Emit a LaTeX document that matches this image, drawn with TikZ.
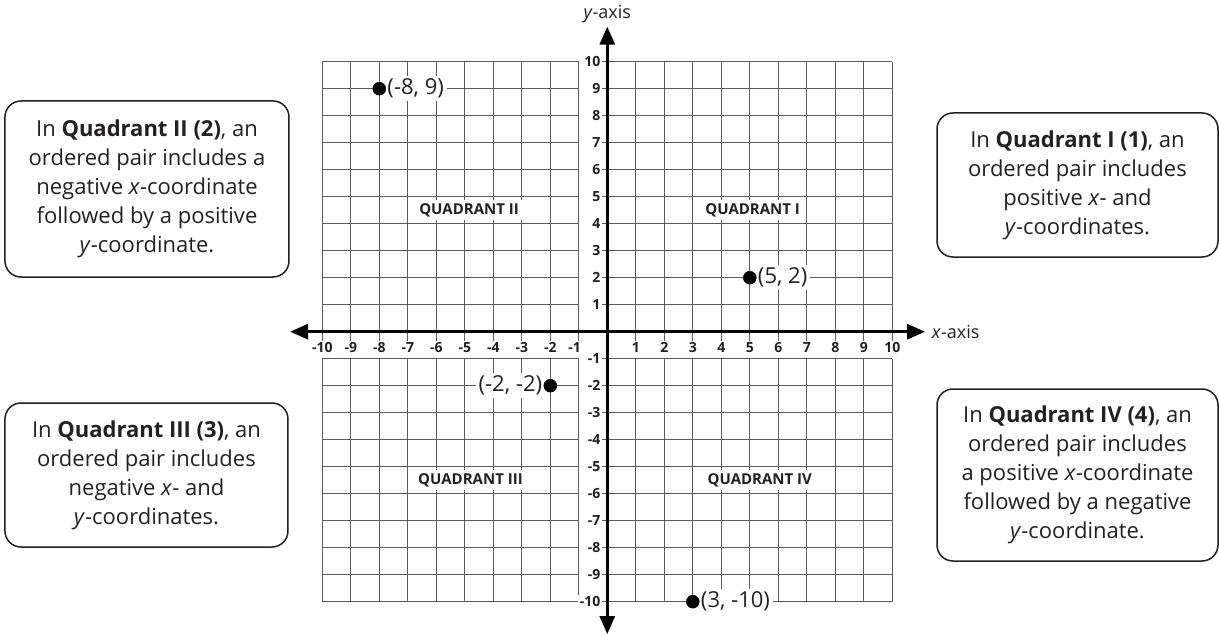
\documentclass[tikz,border=0pt]{standalone}
\usepackage{fontspec}
\setmainfont{Open Sans}
\usepackage{tkz-euclide}
\usetikzlibrary{arrows.meta}
\definecolor{GridClr}{rgb}{0.36,0.36,0.37}
\definecolor{TextClr}{rgb}{0.14,0.12,0.13}

\begin{document}
\begin{tikzpicture}[x=28.5pt,y=27pt,
  gridline/.style={line width=1.3pt,color=GridClr},
  axisline/.style={line width=3pt,color=black,{Triangle[length=18pt,width=15pt]}-{Triangle[length=18pt,width=15pt]}},
  numlbl/.style={fill=white,inner sep=1.5pt,text=TextClr,font=\fontsize{14}{14}\selectfont\bfseries},
  quadlbl/.style={fill=white,inner sep=3pt,text=TextClr,font=\fontsize{15}{15}\selectfont\bfseries},
  axlbl/.style={inner sep=1pt,text=TextClr,font=\fontsize{18}{18}\selectfont},
  ptlbl/.style={fill=white,inner sep=3pt,text=TextClr,font=\fontsize{22}{22}\selectfont},
  infobox/.style={draw=TextClr,line width=1.5pt,rounded corners=16pt,align=center,
    inner sep=0pt,text=TextClr,font=\fontsize{22}{29}\selectfont}]

\useasboundingbox (-607.3pt,-303.3pt) rectangle (611.7pt,331.7pt);

\tkzDefPoints{0/0/O,-11.13/0/W,11.15/0/E,0/11.3/N,0/-11.2/S}
\tkzDefPoints{-8/9/A,5/2/B,-2/-2/C,3/-10/D}

% grid, with the label strips left open
\foreach \i in {1,...,10}{
  \draw[gridline] (\i,-0.5) -- (\i,10) (\i,-1) -- (\i,-10);
  \draw[gridline] (-\i,-0.5) -- (-\i,10) (-\i,-1) -- (-\i,-10);
  \draw[gridline] (-0.5,\i) -- (10,\i) (-10,\i) -- (-1,\i);
  \draw[gridline] (-0.5,-\i) -- (10,-\i) (-10,-\i) -- (-1,-\i);
}

\draw[axisline] (W) -- (E);
\draw[axisline] (S) -- (N);

% numbers on the axes
\foreach \i in {1,...,10}{
  \node[numlbl] (xp\i) at (\i,-0.58) {\i};
  \node[numlbl,anchor=east] (yp\i) at (-0.18,\i) {\i};
  \node[numlbl,anchor=east] (yn\i) at (-0.18,-\i) {-\i};
}
\foreach \i in {2,...,10}
  \node[numlbl] (xn\i) at (-\i,-0.58) {-\i};
\node[numlbl] (xn1) at (-1.15,-0.58) {-1};

\node[axlbl,anchor=west] (xaxis) at (11.35,0) {\textit{x}-axis};
\node[axlbl] (yaxis) at (0,11.77) {\textit{y}-axis};

\node[quadlbl] (qII) at (-4.85,4.5) {QUADRANT II};
\node[quadlbl] (qI) at (5.1,4.5) {QUADRANT I};
\node[quadlbl] (qIII) at (-4.8,-5.5) {QUADRANT III};
\node[quadlbl] (qIV) at (5.35,-5.5) {QUADRANT IV};

% plotted points
\node[ptlbl,anchor=west,xshift=5pt] (lA) at (A) {(-8, 9)};
\node[ptlbl,anchor=west,xshift=5pt] (lB) at (B) {(5, 2)};
\node[ptlbl,anchor=east,xshift=-5pt] (lC) at (C) {(-2, -2)};
\node[ptlbl,anchor=west,xshift=5pt] (lD) at (D) {(3, -10)};
\tkzDrawPoints[size=13,color=black,fill=black](A,B,C,D)

% notes
\node[infobox,minimum width=284pt,minimum height=176pt] (boxII) at (-460.3pt,142.7pt)
  {In \textbf{Quadrant II (2)}, an\\ ordered pair includes a\\ negative \textit{x}-coordinate\\
   followed by a positive\\ \textit{y}-coordinate.};
\node[infobox,minimum width=281pt,minimum height=144pt] (boxI) at (470.2pt,146.7pt)
  {In \textbf{Quadrant I (1)}, an\\ ordered pair includes\\ positive \textit{x}- and\\
   \textit{y}-coordinates.};
\node[infobox,minimum width=283pt,minimum height=144pt] (boxIII) at (-460.8pt,-143.3pt)
  {In \textbf{Quadrant III (3)}, an\\ ordered pair includes\\ negative \textit{x}- and\\
   \textit{y}-coordinates.};
\node[infobox,minimum width=281pt,minimum height=172pt] (boxIV) at (470.2pt,-143.3pt)
  {In \textbf{Quadrant IV (4)}, an\\ ordered pair includes\\ a positive \textit{x}-coordinate\\
   followed by a negative\\ \textit{y}-coordinate.};

\end{tikzpicture}
\end{document}
